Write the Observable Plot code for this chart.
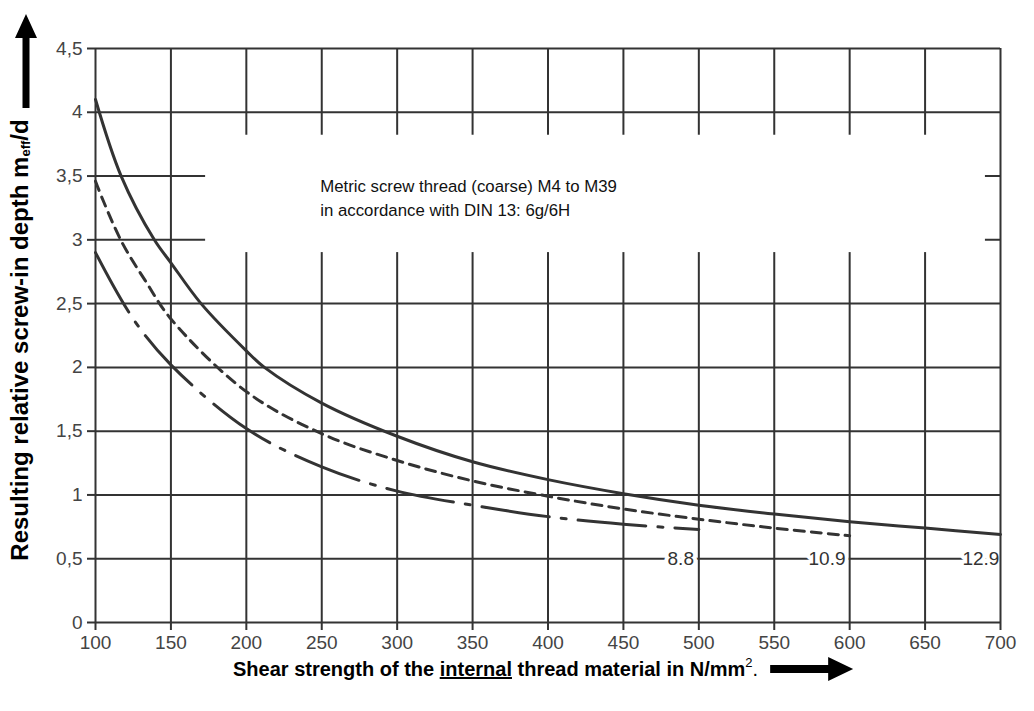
<!DOCTYPE html>
<html><head><meta charset="utf-8">
<script src="https://cdn.jsdelivr.net/npm/d3@7"></script>
<script src="https://cdn.jsdelivr.net/npm/@observablehq/plot@0.6"></script>
<style>
body{margin:0;background:#fff;}
</style></head><body><div id="chart"></div>
<script>
// Tick values
const xTicks = [100,150,200,250,300,350,400,450,500,550,600,650,700];
const yTicks = [0,0.5,1,1.5,2,2.5,3,3.5,4,4.5];

// Property class 12.9 (solid)
const strength129 = [100,117,139,150,170,200,212,250,300,350,400,450,500,550,600,650,700];
const depth129    = [4.1,3.5,3.0,2.82,2.5,2.13,2.0,1.72,1.46,1.26,1.12,1.01,0.92,0.85,0.79,0.74,0.69];

// Property class 10.9 (dashed)
const strength109 = [100,105,118,133,150,200,250,300,350,400,450,500,550,600];
const depth109    = [3.46,3.31,2.97,2.68,2.38,1.81,1.48,1.27,1.11,0.99,0.89,0.81,0.74,0.68];

// Property class 8.8 (dash-dot)
const strength88 = [100,125,150,200,250,300,350,400,450,500];
const depth88    = [2.9,2.38,2.02,1.52,1.22,1.03,0.92,0.83,0.77,0.73];

// Curve labels
const gradeNames = ["8.8","10.9","12.9"];
const gradeLabelX = [488,585,687];
const gradeLabelY = [0.5,0.5,0.5];

const noteText = "Metric screw thread (coarse) M4 to M39\nin accordance with DIN 13: 6g/6H";
const xTitleParts = ["Shear strength of the ","internal"," thread material in N/mm","2","."];
const yTitleParts = ["Resulting relative screw-in depth m","eff","/d"];

const toPts = (xs, ys) => xs.map((x,i)=>({x, y: ys[i]}));
const labels = gradeNames.map((t,i)=>({text:t, x:gradeLabelX[i], y:gradeLabelY[i]}));
const noteBox = [{x1:173, x2:690, y1:2.9, y2:3.82}];
const note = [{x:249, y:3.34, text:noteText}];

const ink = "#333";
const font = "'Liberation Sans', Arial, Helvetica, sans-serif";

const plot = Plot.plot({
  width: 1034, height: 711,
  marginLeft: 95, marginRight: 34, marginTop: 48, marginBottom: 89,
  x: {domain: [100, 700]},
  y: {domain: [0, 4.5]},
  style: {fontFamily: font, background: "white", color: ink},
  marks: [
    Plot.ruleY(yTicks, {stroke: ink, strokeWidth: 2}),
    Plot.text(labels, {x:"x", y:"y", text:"text", fill: ink, stroke:"white", strokeWidth: 8, fontSize: 19}),
    Plot.ruleX(xTicks, {stroke: ink, strokeWidth: 2}),
    Plot.rect(noteBox, {x1:"x1", x2:"x2", y1:"y1", y2:"y2", fill:"white"}),
    Plot.axisX({ticks: xTicks, tickSize: 8, tickPadding: 5, label: null, fontSize: 19, color: "#444", strokeWidth: 2, stroke: ink}),
    Plot.axisY({ticks: yTicks, tickSize: 8, tickPadding: 5, label: null, fontSize: 19, color: "#444", strokeWidth: 2, stroke: ink,
      tickFormat: d => String(d).replace(".", ",")}),
    Plot.line(toPts(strength88, depth88), {x:"x", y:"y", curve:"catmull-rom", stroke: ink, strokeWidth: 3, strokeDasharray: "68,12,5,12"}),
    Plot.line(toPts(strength109, depth109), {x:"x", y:"y", curve:"catmull-rom", stroke: ink, strokeWidth: 3, strokeDasharray: "10,7"}),
    Plot.line(toPts(strength129, depth129), {x:"x", y:"y", curve:"catmull-rom", stroke: ink, strokeWidth: 3}),
    Plot.text(note, {x:"x", y:"y", text:"text", textAnchor:"start", lineHeight: 1.4, fontSize: 16.8, fill:"#111"})
  ]
});
document.getElementById("chart").appendChild(plot);

const svg = d3.select(plot);
// X-axis title
const xt = svg.append("text")
  .attr("x", 233).attr("y", 676)
  .attr("text-anchor", "start")
  .attr("font-family", font).attr("font-size", 20).attr("font-weight", "bold").attr("fill", "#000");
xt.append("tspan").text(xTitleParts[0]);
xt.append("tspan").attr("text-decoration", "underline").text(xTitleParts[1]);
xt.append("tspan").text(xTitleParts[2]);
xt.append("tspan").attr("font-size", 13).attr("font-weight", "normal").attr("dy", -9).text(xTitleParts[3]);
xt.append("tspan").attr("font-weight", "normal").attr("dy", 9).text(xTitleParts[4]);

// Y-axis title
const yt = svg.append("text")
  .attr("transform", "translate(28,340) rotate(-90)")
  .attr("text-anchor", "middle")
  .attr("font-family", font).attr("font-size", 24).attr("font-weight", "bold").attr("fill", "#000");
yt.append("tspan").text(yTitleParts[0]);
yt.append("tspan").attr("font-size", 13).attr("dy", 2).text(yTitleParts[1]);
yt.append("tspan").attr("dy", -2).text(yTitleParts[2]);

// Arrows
svg.append("path").attr("fill", "#000")
  .attr("d", "M26,14 L37,38 L29.5,38 L29.5,108 L22.5,108 L22.5,38 L15,38 Z");
const bb = xt.node().getBBox();
const ax0 = bb.x + bb.width + 12, ay = 669;
svg.append("path").attr("fill", "#000")
  .attr("d", `M${ax0},${ay-4} L${ax0+58},${ay-4} L${ax0+58},${ay-12} L${ax0+83},${ay} L${ax0+58},${ay+12} L${ax0+58},${ay+4} L${ax0},${ay+4} Z`);
</script></body></html>
